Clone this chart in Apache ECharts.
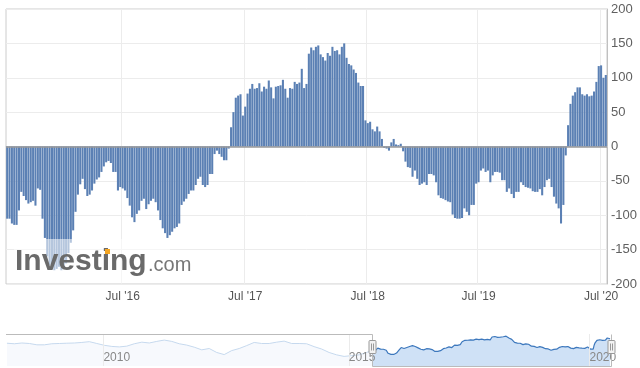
<!DOCTYPE html>
<html>
<head>
<meta charset="utf-8">
<script src="https://cdn.jsdelivr.net/npm/echarts@6/dist/echarts.min.js"></script>
<style>
  html, body { margin: 0; padding: 0; background: #fff; }
  #chart { width: 640px; height: 368px; }
</style>
</head>
<body>
<div id="chart"></div>
<script>
// weekly readings, mid 2015 .. Jul 2020, one per bar
const values = [
  -105, -105, -112, -114, -114, -93, -66, -72, -78, -83, -81, -79, -86, -61, -63, -105,
  -133, -160, -172, -176, -180, -178, -175, -180, -177, -170, -155, -140, -122, -95, -70, -55,
  -47, -62, -72, -70, -64, -54, -48, -45, -37, -29, -23, -21, -24, -37, -37, -64,
  -59, -61, -64, -75, -86, -103, -110, -98, -93, -79, -76, -91, -84, -79, -76, -81,
  -93, -107, -119, -126, -133, -129, -124, -119, -117, -112, -85, -80, -76, -69, -64, -64,
  -56, -47, -44, -56, -59, -56, -40, -40, -11, -6, -11, -15, -20, -20, -3, 28,
  50, 71, 74, 76, 45, 58, 77, 84, 91, 84, 85, 92, 80, 87, 84, 96,
  86, 70, 87, 88, 89, 97, 84, 71, 85, 84, 94, 91, 93, 113, 85, 91,
  135, 144, 140, 145, 147, 134, 130, 125, 136, 132, 145, 139, 140, 134, 145, 150,
  129, 120, 118, 112, 107, 93, 88, 88, 38, 34, 36, 25, 22, 29, 22, 11,
  -2, -3, -6, 6, 11, 3, 2, 4, -7, -22, -30, -31, -44, -35, -47, -56,
  -54, -52, -56, -40, -40, -42, -52, -71, -75, -76, -78, -80, -81, -99, -104, -105,
  -105, -104, -90, -95, -100, -85, -85, -54, -52, -35, -32, -37, -35, -52, -42, -37,
  -37, -38, -49, -49, -66, -61, -69, -75, -66, -66, -52, -56, -59, -60, -61, -65,
  -66, -66, -62, -71, -59, -49, -47, -59, -73, -83, -90, -112, -85, -13, 31, 62,
  74, 79, 86, 86, 76, 74, 76, 73, 74, 80, 94, 117, 118, 100, 104
];

// x axis labels and the bar they sit on
const tickIdx = [49, 101, 153, 200, 252];
const tickLabels = ["Jul '16", "Jul '17", "Jul '18", "Jul '19", "Jul '20"];

// navigator: older history, one reading every 8 weeks, up to where the bars begin
const navHistory = [
  23, 13, 27, 18, -6, -6, 13, 18, 23, 27, 37, 51, 18, -15, -35, -44,
  -30, 13, 42, 27, 56, 80, 56, 13, -11, -49, -97, -73, -145, -183, -111, -73,
  -20, 37, 18, 18, 42, 61, 18, 18, 13, -39, -82, -145, -188, -216, -202, -188, -145
];
const navStart = -390;  // weeks before the first bar
const navStep = 8;
const navYears = ['2010', '2015', '2020'];
const navYearPos = [-287, -25, 232];

const FONT = '"Liberation Sans", Arial, sans-serif';
const chart = echarts.init(document.getElementById('chart'));

const navOld = navHistory.map((v, k) => [navStart + k * navStep, v]).concat([[0, values[0]]]);
const navSel = values.map((v, i) => [i, v]);

chart.setOption({
  animation: false,
  grid: [
    { left: 6, top: 9, width: 604, height: 275, show: true, borderColor: '#cccccc', borderWidth: 1 },
    { left: 6, top: 334, width: 605, height: 32 }
  ],
  xAxis: [
    {
      type: 'category',
      gridIndex: 0,
      data: values.map((_, i) => i),
      axisLine: { lineStyle: { color: '#ccd6eb' } },
      axisTick: { show: false },
      axisLabel: {
        interval: (i) => tickIdx.includes(i),
        formatter: (v, i) => (tickIdx.includes(i) ? tickLabels[tickIdx.indexOf(i)] : ''),
        color: '#555', fontSize: 12, fontFamily: FONT, margin: 7
      },
      splitLine: { show: true, interval: (i) => tickIdx.includes(i), lineStyle: { color: '#ececec' } }
    },
    {
      type: 'value',
      gridIndex: 1,
      z: 10,
      min: -391, max: 255,
      axisLine: { show: false },
      axisTick: { show: false },
      splitLine: { show: false },
      axisLabel: {
        customValues: navYearPos,
        formatter: (v) => navYears[navYearPos.indexOf(v)] || '',
        inside: true, align: 'left', margin: 2,
        color: '#888', fontSize: 12, fontFamily: FONT
      }
    }
  ],
  yAxis: [
    {
      type: 'value',
      gridIndex: 0,
      position: 'right',
      min: -200, max: 200, interval: 50,
      axisLine: { show: true, lineStyle: { color: '#c0c0c0' } },
      axisTick: { show: false },
      axisLabel: { color: '#606060', fontSize: 13, fontFamily: FONT, margin: 4 },
      splitLine: { lineStyle: { color: '#ececec' } }
    },
    { type: 'value', gridIndex: 1, min: -390, max: 190, show: false }
  ],
  series: [
    {
      type: 'bar',
      xAxisIndex: 0, yAxisIndex: 0,
      data: values,
      barWidth: '88%',
      itemStyle: { color: '#5b80b4' },
      markLine: {
        silent: true, symbol: 'none',
        label: { show: false },
        lineStyle: { color: '#999', width: 1.5, type: 'solid' },
        data: [{ yAxis: 0 }]
      }
    },
    {
      type: 'line',
      xAxisIndex: 1, yAxisIndex: 1,
      data: navOld,
      showSymbol: false,
      lineStyle: { color: '#c6d9ee', width: 1 },
      areaStyle: { color: '#f3f7fc', origin: 'start' },
      markLine: {
        silent: true, symbol: 'none',
        label: { show: false },
        lineStyle: { color: '#ebebeb', width: 1, type: 'solid' },
        data: navYearPos.map((x) => ({ xAxis: x }))
      }
    },
    {
      type: 'line',
      xAxisIndex: 1, yAxisIndex: 1,
      data: navSel,
      showSymbol: false,
      lineStyle: { color: '#3d78bd', width: 1.2 },
      areaStyle: { color: '#cfe1f6', origin: 'start', opacity: 1 }
    }
  ]
});

// navigator outline, handles and the watermark
const selL = Math.round(chart.convertToPixel({ xAxisIndex: 1 }, -0.5)) + 0.5;
const selR = Math.round(chart.convertToPixel({ xAxisIndex: 1 }, 254.5)) + 0.5;

function handle(x) {
  return [
    { type: 'rect', shape: { x: x - 3.5, y: 340.5, width: 7, height: 13, r: 1 },
      style: { fill: '#f2f2f2', stroke: '#999', lineWidth: 1 }, z: 20 },
    { type: 'line', shape: { x1: x - 1, y1: 343.5, x2: x - 1, y2: 350.5 },
      style: { stroke: '#999', lineWidth: 1 }, z: 21 },
    { type: 'line', shape: { x1: x + 1, y1: 343.5, x2: x + 1, y2: 350.5 },
      style: { stroke: '#999', lineWidth: 1 }, z: 21 }
  ];
}

chart.setOption({
  graphic: [
    { type: 'polyline',
      shape: { points: [[6, 334.5], [selL, 334.5], [selL, 366.5], [selR, 366.5], [selR, 334.5]] },
      style: { stroke: '#bbb', fill: null, lineWidth: 1 }, z: 15 },
    ...handle(selL),
    ...handle(selR),
    { type: 'rect', shape: { x: 14, y: 239, width: 156, height: 44 },
      style: { fill: 'rgba(255,255,255,0.55)' }, z: 30 },
    { type: 'text', x: 15, y: 262,
      style: { text: 'Investing', font: 'bold 30px ' + FONT, fill: '#6a6a6a', verticalAlign: 'middle' }, z: 31 },
    { type: 'text', x: 148, y: 265,
      style: { text: '.com', font: '20px ' + FONT, fill: '#777', verticalAlign: 'middle' }, z: 31 },
    { type: 'rect', shape: { x: 105, y: 249, width: 5, height: 5 },
      style: { fill: '#f5a623' }, z: 32 }
  ]
});
</script>
</body>
</html>
